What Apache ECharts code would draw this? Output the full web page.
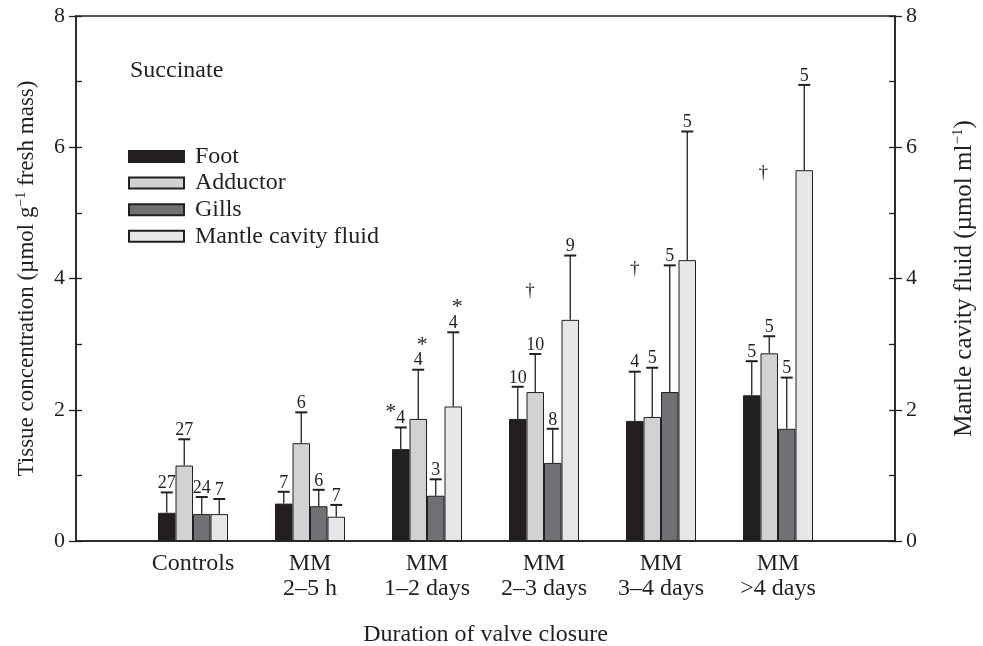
<!DOCTYPE html>
<html><head><meta charset="utf-8">
<script src="https://cdn.jsdelivr.net/npm/echarts@6/dist/echarts.min.js"></script>
<style>html,body{margin:0;padding:0;background:#fff}#c{width:983px;height:646px}</style>
</head><body><div id="c"></div>
<script>
// ---- data ----
const categories = ['', 'Controls', 'MM\n2–5 h', 'MM\n1–2 days', 'MM\n2–3 days', 'MM\n3–4 days', 'MM\n>4 days', ''];
const seriesNames = ['Foot', 'Adductor', 'Gills', 'Mantle cavity fluid'];
const footMean     = [0.43, 0.57, 1.40, 1.86, 1.83, 2.22];
const footErr      = [0.31, 0.18, 0.33, 0.49, 0.75, 0.52];
const footN        = ['27', '7', '4', '10', '4', '5'];
const footMark     = ['', '', '*', '', '', ''];
const adductorMean = [1.15, 1.49, 1.86, 2.27, 1.89, 2.86];
const adductorErr  = [0.40, 0.47, 0.75, 0.58, 0.75, 0.26];
const adductorN    = ['27', '6', '4', '10', '5', '5'];
const adductorMark = ['', '', '*', '', '', ''];
const gillsMean    = [0.41, 0.53, 0.69, 1.19, 2.27, 1.71];
const gillsErr     = [0.26, 0.25, 0.25, 0.52, 1.93, 0.78];
const gillsN       = ['24', '6', '3', '8', '5', '5'];
const gillsMark    = ['', '', '', '', '', ''];
const mantleMean   = [0.41, 0.37, 2.05, 3.37, 4.28, 5.65];
const mantleErr    = [0.23, 0.18, 1.13, 0.98, 1.96, 1.30];
const mantleN      = ['7', '7', '4', '9', '5', '5'];
const mantleMark   = ['', '', '*', '', '', ''];
// daggers: [group (1..6), bar position (0..3), level]
const daggers = [[4, 0.7, 3.83], [5, 0.0, 4.16], [6, 0.65, 5.62]];

const colors = ['#231f20', '#d1d2d4', '#707174', '#e6e7e8'];
const means = [footMean, adductorMean, gillsMean, mantleMean];
const errs = [footErr, adductorErr, gillsErr, mantleErr];
const ns = [footN, adductorN, gillsN, mantleN];
const marks = [footMark, adductorMark, gillsMark, mantleMark];
const BW = 17.5;
const FONT = '"Liberation Serif", "Times New Roman", serif';
const INK = '#231f20';

const chart = echarts.init(document.getElementById('c'));

const barSeries = seriesNames.map((name, s) => ({
  name, type: 'bar', yAxisIndex: s === 3 ? 2 : 0,
  barWidth: BW, barGap: '0%',
  itemStyle: { color: colors[s], borderColor: INK, borderWidth: 1 },
  data: means[s].map((v, i) => [i + 1, v]),
  z: 2
}));

const errData = [];
means.forEach((arr, s) => arr.forEach((v, i) => errData.push([i + 1, s, v, v + errs[s][i], ns[s][i], marks[s][i]])));

const errSeries = {
  type: 'custom', yAxisIndex: 0, z: 5, silent: true,
  encode: { x: 0, y: 3 },
  data: errData,
  renderItem(params, api) {
    const cat = api.value(0), s = api.value(1);
    const base = api.coord([cat, api.value(2)]);
    const top = api.coord([cat, api.value(3)]);
    const x = base[0] + (s - 1.5) * BW;
    const d = errData[params.dataIndex];
    const children = [
      { type: 'line', shape: { x1: x, y1: base[1], x2: x, y2: top[1] }, style: { stroke: INK, lineWidth: 1.3 } },
      { type: 'line', shape: { x1: x - 6, y1: top[1], x2: x + 6, y2: top[1] }, style: { stroke: INK, lineWidth: 2 } },
      { type: 'text', style: { text: d[4], x: x, y: top[1] - 9, textAlign: 'center', textVerticalAlign: 'middle', font: '18px ' + FONT, fill: INK } }
    ];
    if (d[5]) {
      const left = s === 0;
      children.push({ type: 'text', style: { text: d[5], x: left ? x - 10 : x + 4, y: top[1] - (left ? 4 : 14), textAlign: 'center', textVerticalAlign: 'bottom', font: '22px ' + FONT, fill: INK } });
    }
    return { type: 'group', children };
  }
};

const daggerSeries = {
  type: 'custom', yAxisIndex: 0, z: 5, silent: true,
  encode: { x: 0, y: 2 },
  data: daggers,
  renderItem(params, api) {
    const p = api.coord([api.value(0), api.value(2)]);
    const x = p[0] + (api.value(1) - 1.5) * BW;
    return { type: 'text', style: { text: '†', x: x, y: p[1] + 1, textAlign: 'center', textVerticalAlign: 'middle', font: '19px ' + FONT, fill: INK } };
  }
};

function nameRich(fs) {
  return {
    b: { fontFamily: FONT, fontSize: fs, color: INK },
    sup: { fontFamily: FONT, fontSize: Math.round(fs * 0.6), color: INK, padding: [0, 0, Math.round(fs * 0.48), 0] }
  };
}

function yAx(pos, name, gap, fs) {
  return {
    type: 'value', position: pos, min: 0, max: 8, interval: 2,
    axisLine: { show: true, lineStyle: { color: INK, width: 1.5 } },
    axisTick: { show: true, length: 7, lineStyle: { color: INK, width: 1.3 } },
    splitLine: { show: false },
    axisLabel: { show: true, fontFamily: FONT, fontSize: 22, color: INK, margin: 11 },
    name: name, nameLocation: 'middle', nameGap: gap, nameRotate: 90,
    nameTextStyle: { rich: nameRich(fs), fontFamily: FONT, fontSize: fs, color: INK }
  };
}
function yMinor(pos) {
  return {
    type: 'value', position: pos, min: 0, max: 8, interval: 1,
    axisLine: { show: false }, splitLine: { show: false },
    axisLabel: { show: false },
    axisTick: { show: true, inside: true, length: 6, lineStyle: { color: INK, width: 1.3 } }
  };
}

chart.setOption({
  animation: false,
  backgroundColor: '#fff',
  grid: { left: 76, right: 88, top: 16, bottom: 105, show: true, borderColor: INK, borderWidth: 1.5, backgroundColor: 'transparent', containLabel: false, outerBoundsMode: 'none' },
  xAxis: {
    type: 'category', data: categories, boundaryGap: false,
    axisLine: { show: true, lineStyle: { color: INK, width: 1.5 } },
    axisTick: { show: false },
    axisLabel: { fontFamily: FONT, fontSize: 24, color: INK, lineHeight: 25, margin: 10, interval: 0, verticalAlign: 'top' },
    name: 'Duration of valve closure', nameLocation: 'middle', nameGap: 82,
    nameTextStyle: { fontFamily: FONT, fontSize: 24, color: INK }
  },
  yAxis: [
    yAx('left', '{b|Tissue concentration (µmol g}{sup|−1}{b| fresh mass)}', 37, 23),
    yMinor('left'),
    yAx('right', '{b|Mantle cavity fluid (µmol ml}{sup|−1}{b|)}', 56, 25),
    yMinor('right')
  ],
  legend: {
    left: 128, top: 144.5, padding: 0, orient: 'vertical', itemWidth: 55, itemHeight: 11, itemGap: 2.6,
    icon: 'rect', selectedMode: false,
    textStyle: { fontFamily: FONT, fontSize: 24, lineHeight: 20, color: INK, padding: [0, 0, 0, 6] },
    data: seriesNames
  },
  graphic: [{ type: 'text', left: 130, top: 59, style: { text: 'Succinate', font: '24px ' + FONT, fill: INK } }],
  series: [...barSeries, errSeries, daggerSeries]
});
</script></body></html>
